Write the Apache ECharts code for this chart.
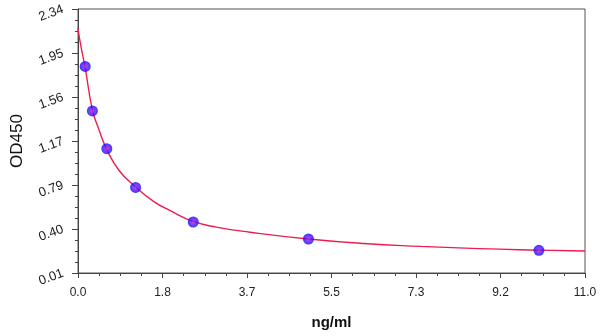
<!DOCTYPE html>
<html><head><meta charset="utf-8">
<script src="https://cdn.jsdelivr.net/npm/echarts@6/dist/echarts.min.js"></script>
<style>html,body{margin:0;padding:0;background:#fff}#c{width:600px;height:336px}</style>
</head><body><div id="c"></div>
<script>
// Standards (concentration ng/ml, OD450)
const stdConc = [0.156, 0.3125, 0.625, 1.25, 2.5, 5, 10];
const stdOD   = [1.833, 1.44, 1.107, 0.765, 0.46, 0.31, 0.21];
// Fitted curve
const curveConc = [0, 0.05, 0.156, 0.3125, 0.45, 0.625, 0.9, 1.25, 1.63, 2.0, 2.5, 3.0, 3.73, 5, 6.2, 7.42, 8.7, 10, 11];
const curveOD   = [2.17, 2.04, 1.82, 1.45, 1.28, 1.10, 0.91, 0.77, 0.645, 0.56, 0.465, 0.415, 0.37, 0.31, 0.27, 0.245, 0.225, 0.212, 0.204];
// Tick labels
const xTickLabels = ['0.0', '1.8', '3.7', '5.5', '7.3', '9.2', '11.0'];
const yTickLabels = ['0.01', '0.40', '0.79', '1.17', '1.56', '1.95', '2.34'];

const xMin = 0, xMax = 11, yMin = 0.01, yMax = 2.34;
const xStep = (xMax - xMin) / (xTickLabels.length - 1);
const yStep = (yMax - yMin) / (yTickLabels.length - 1);
const xMajor = xTickLabels.map((_, i) => xMin + i * xStep);
const yMajor = yTickLabels.map((_, i) => yMin + i * yStep);
const xMinor = [], yMinor = [];
for (let i = 0; i < xMajor.length - 1; i++) for (let k = 1; k < 4; k++) xMinor.push(xMajor[i] + k * xStep / 4);
for (let i = 0; i < yMajor.length - 1; i++) for (let k = 1; k < 4; k++) yMinor.push(yMajor[i] + k * yStep / 4);

const font = 'Liberation Sans, Arial, sans-serif';
const axisLineStyle = { color: '#444', width: 1 };

const chart = echarts.init(document.getElementById('c'));
chart.setOption({
  animation: false,
  grid: { left: 78, right: 15, top: 9, bottom: 63, show: true, borderColor: '#555', borderWidth: 1, backgroundColor: 'transparent' },
  xAxis: [{
    type: 'value', min: xMin, max: xMax,
    name: 'ng/ml', nameLocation: 'middle', nameGap: 42,
    nameTextStyle: { fontFamily: font, fontSize: 15, fontWeight: 'bold', color: '#111' },
    axisLine: { show: true, lineStyle: axisLineStyle },
    axisTick: { show: true, length: 5, lineStyle: axisLineStyle, customValues: xMajor },
    axisLabel: { customValues: xMajor, margin: 14, fontFamily: font, fontSize: 12, color: '#222',
      formatter: v => xTickLabels[Math.round((v - xMin) / xStep)] },
    splitLine: { show: false }
  }, {
    type: 'value', min: xMin, max: xMax, position: 'bottom',
    axisLine: { show: false },
    axisTick: { show: true, length: 3, lineStyle: axisLineStyle, customValues: xMinor },
    axisLabel: { show: false }, splitLine: { show: false }
  }],
  yAxis: [{
    type: 'value', min: yMin, max: yMax,
    name: 'OD450', nameLocation: 'middle', nameGap: 52,
    nameTextStyle: { fontFamily: font, fontSize: 17, fontWeight: 'normal', color: '#111' },
    axisLine: { show: true, lineStyle: axisLineStyle },
    axisTick: { show: true, length: 6, lineStyle: axisLineStyle, customValues: yMajor },
    axisLabel: { customValues: yMajor, rotate: 20, margin: 15, fontFamily: font, fontSize: 13, color: '#222',
      formatter: v => yTickLabels[Math.round((v - yMin) / yStep)] },
    splitLine: { show: false }
  }, {
    type: 'value', min: yMin, max: yMax, position: 'left',
    axisLine: { show: false },
    axisTick: { show: true, length: 3, lineStyle: axisLineStyle, customValues: yMinor },
    axisLabel: { show: false }, splitLine: { show: false }
  }],
  series: [{
    type: 'line', smooth: 0.5, showSymbol: false, z: 2,
    data: curveConc.map((x, i) => [x, curveOD[i]]),
    lineStyle: { color: '#ee1c4e', width: 1.4 }
  }, {
    type: 'scatter', symbolSize: 11, z: 3,
    data: stdConc.map((x, i) => [x, stdOD[i]]),
    itemStyle: { color: new echarts.graphic.RadialGradient(0.5, 0.5, 0.5, [
      { offset: 0, color: '#c020e0' }, { offset: 0.4, color: '#6a14f4' }, { offset: 1, color: '#0a0aff' }]) }
  }]
});
</script></body></html>
